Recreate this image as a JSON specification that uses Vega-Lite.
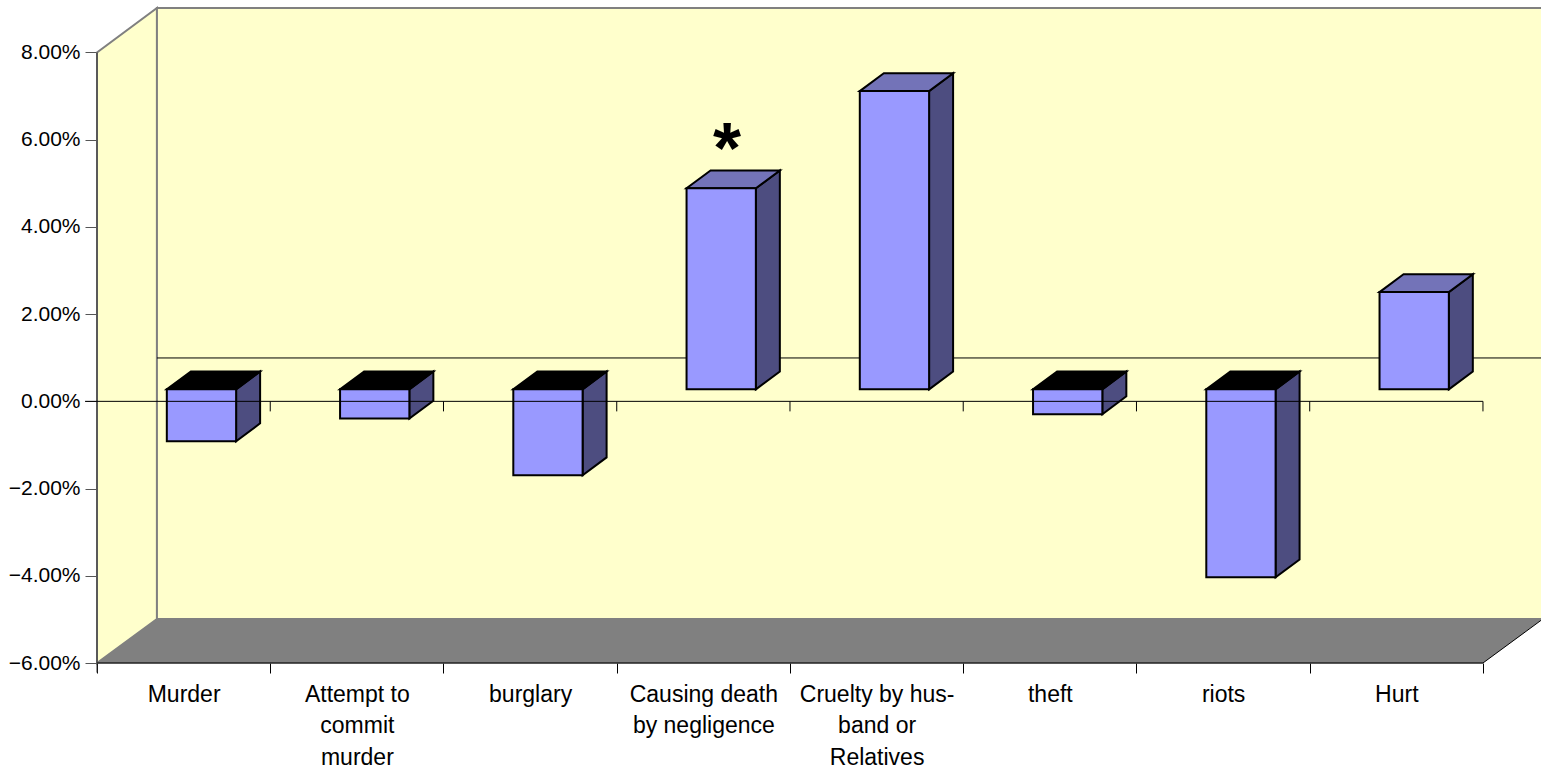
{
"$schema":"https://vega.github.io/schema/vega-lite/v6.json",
"autosize":{"type":"none"},
"padding":{"left":97,"top":8,"right":0,"bottom":106},
"width":1444,"height":655,
"background":"#ffffff",
"config":{"view":{"stroke":null},"font":"Liberation Sans"},
"datasets":{
"bars":[
{"category":"Murder","order":0,"value":-0.0119},
{"category":"Attempt to commit murder","order":1,"value":-0.0067},
{"category":"burglary","order":2,"value":-0.0197},
{"category":"Causing death by negligence","order":3,"value":0.0461},
{"category":"Cruelty by husband or Relatives","order":4,"value":0.0684},
{"category":"theft","order":5,"value":-0.0057},
{"category":"riots","order":6,"value":-0.0431},
{"category":"Hurt","order":7,"value":0.0223}
],
"leftwall":[{"c":0,"low":-0.06,"high":0.08},{"c":0.346,"low":-0.0499,"high":0.0902}],
"floor":[{"v":-0.06,"a":0,"b":8},{"v":-0.0499,"a":0.346,"b":8.346}],
"flooredge":[{"c":8,"v":-0.06},{"c":8.346,"v":-0.0499}],
"ticks":[{"c":1},{"c":2},{"c":3},{"c":4},{"c":5},{"c":6},{"c":7},{"c":8}]
},
"layer":[
{"data":{"name":"leftwall"},
 "mark":{"type":"area","fill":"#ffffcc","stroke":"#808080","strokeWidth":2},
 "encoding":{
  "x":{"field":"c","type":"quantitative","scale":{"domain":[0,8.335],"nice":false,"zero":false},
    "axis":{"orient":"bottom","values":[0,1,2,3,4,5,6,7,8],"labels":false,"domain":false,"grid":false,"tickSize":10,"tickColor":"#000000","title":null}},
  "y":{"field":"low","type":"quantitative","scale":{"domain":[-0.06,0.0902],"nice":false,"zero":false},
    "axis":{"orient":"left","values":[-0.06,-0.04,-0.02,0,0.02,0.04,0.06,0.08],"format":".2%","domain":false,"grid":false,"tickSize":12,"tickColor":"#555555","labelFontSize":21,"labelFont":"Liberation Sans","labelColor":"#000000","labelPadding":5,"title":null}},
  "y2":{"field":"high"}
 }},
{"data":{"values":[{"wall":"back"}]},
 "mark":{"type":"rect","fill":"#ffffcc","stroke":"#808080","strokeWidth":2},
 "encoding":{"x":{"datum":0.346,"type":"quantitative","axis":null},"x2":{"datum":8.346},"y":{"datum":-0.0499,"type":"quantitative","axis":null},"y2":{"datum":0.0902}}},
{"data":{"name":"floor"},
 "mark":{"type":"area","orient":"horizontal","fill":"#808080"},
 "encoding":{"y":{"field":"v","type":"quantitative","axis":null},"x":{"field":"a","type":"quantitative","axis":null},"x2":{"field":"b"}}},
{"data":{"name":"flooredge"},
 "mark":{"type":"line","stroke":"#000000","strokeWidth":1},
 "encoding":{"x":{"field":"c","type":"quantitative","axis":null},"y":{"field":"v","type":"quantitative","axis":null}}},
{"data":{"values":[{"line":"back zero"}]},
 "mark":{"type":"rule","stroke":"#000000","strokeWidth":1},
 "encoding":{"x":{"datum":0.346,"type":"quantitative","axis":null},"x2":{"datum":8.346},"y":{"datum":0.00995,"type":"quantitative","axis":null}}},
{"data":{"values":[{"line":"floor front"}]},
 "mark":{"type":"rule","stroke":"#222222","strokeWidth":1.5},
 "encoding":{"x":{"datum":0,"type":"quantitative","axis":null},"x2":{"datum":8},"y":{"datum":-0.06,"type":"quantitative","axis":null}}},
{"data":{"values":[{"line":"value axis"}]},
 "mark":{"type":"rule","stroke":"#333333","strokeWidth":1},
 "encoding":{"x":{"datum":0,"type":"quantitative","axis":null},"y":{"datum":-0.0622,"type":"quantitative","axis":null},"y2":{"datum":0.08}}},
{"data":{"name":"bars"},
 "transform":[
  {"calculate":"[0,1]","as":"corner"},{"flatten":["corner"]},
  {"calculate":"datum.order+0.803+datum.corner*0.1385","as":"sx"},
  {"calculate":"0.00275+datum.corner*0.0041","as":"sy"},
  {"calculate":"0.00275+datum.value+datum.corner*0.0041","as":"sy2"}],
 "mark":{"type":"area","fill":"#4d4d80","stroke":"#000000","strokeWidth":2},
 "encoding":{"detail":{"field":"category"},"x":{"field":"sx","type":"quantitative","axis":null},"y":{"field":"sy","type":"quantitative","axis":null},"y2":{"field":"sy2"}}},
{"data":{"name":"bars"},
 "transform":[
  {"calculate":"[0,1]","as":"corner"},{"flatten":["corner"]},
  {"calculate":"datum.order+0.403+datum.corner*0.1385","as":"tx"},
  {"calculate":"datum.tx+0.4","as":"tx2"},
  {"calculate":"0.00275+max(datum.value,0)+datum.corner*0.0041","as":"ty"}],
 "mark":{"type":"area","orient":"horizontal","stroke":"#000000","strokeWidth":2},
 "encoding":{"detail":{"field":"category"},"y":{"field":"ty","type":"quantitative","axis":null},"x":{"field":"tx","type":"quantitative","axis":null},"x2":{"field":"tx2"},
  "fill":{"condition":{"test":"datum.value<0","value":"#000000"},"value":"#7373b8"}}},
{"data":{"name":"bars"},
 "transform":[
  {"calculate":"datum.order+0.403","as":"fx"},
  {"calculate":"datum.fx+0.4","as":"fx2"},
  {"calculate":"0.00275","as":"fy"},
  {"calculate":"0.00275+datum.value","as":"fy2"}],
 "mark":{"type":"rect","fill":"#9999ff","stroke":"#000000","strokeWidth":2},
 "encoding":{"x":{"field":"fx","type":"quantitative","axis":null},"x2":{"field":"fx2"},"y":{"field":"fy","type":"quantitative","axis":null},"y2":{"field":"fy2"}}},
{"data":{"values":[{"line":"category axis"}]},
 "mark":{"type":"rule","stroke":"#000000","strokeWidth":1},
 "encoding":{"x":{"datum":-0.069,"type":"quantitative","axis":null},"x2":{"datum":8},"y":{"datum":0,"type":"quantitative","axis":null}}},
{"data":{"name":"ticks"},
 "mark":{"type":"rule","stroke":"#000000","strokeWidth":1},
 "encoding":{"x":{"field":"c","type":"quantitative","axis":null},"y":{"datum":0,"type":"quantitative","axis":null},"y2":{"datum":-0.0023}}},
{"data":{"values":[{"note":"*"}]},
 "mark":{"type":"text","fontSize":72,"fontWeight":"bold","font":"Liberation Sans","baseline":"middle","align":"center","color":"#000000"},
 "encoding":{"text":{"field":"note"},"x":{"datum":3.636,"type":"quantitative","axis":null},"y":{"datum":0.0575,"type":"quantitative","axis":null}}},
{"data":{"name":"bars"},
 "mark":{"type":"tick","opacity":0},
 "encoding":{
  "x":{"field":"labelpos","type":"quantitative","axis":{"orient":"bottom","values":[0.5,1.5,2.5,3.5,4.5,5.5,6.5,7.5],"ticks":false,"domain":false,"grid":false,"labelPadding":20,"labelBaseline":"top","labelFontSize":23,"labelFont":"Liberation Sans","labelColor":"#000000","labelLineHeight":31.5,"labelOverlap":false,"labelFlush":false,"labelBound":false,"title":null,
   "labelExpr":"[['Murder'],['Attempt to','commit','murder'],['burglary'],['Causing death','by negligence'],['Cruelty by hus-','band or','Relatives'],['theft'],['riots'],['Hurt']][floor(datum.value)]"}},
  "y":{"field":"value","type":"quantitative","axis":null}
 },
 "transform":[{"calculate":"datum.order+0.5","as":"labelpos"}]}
],
"resolve":{"axis":{"x":"independent","y":"independent"}}
}
